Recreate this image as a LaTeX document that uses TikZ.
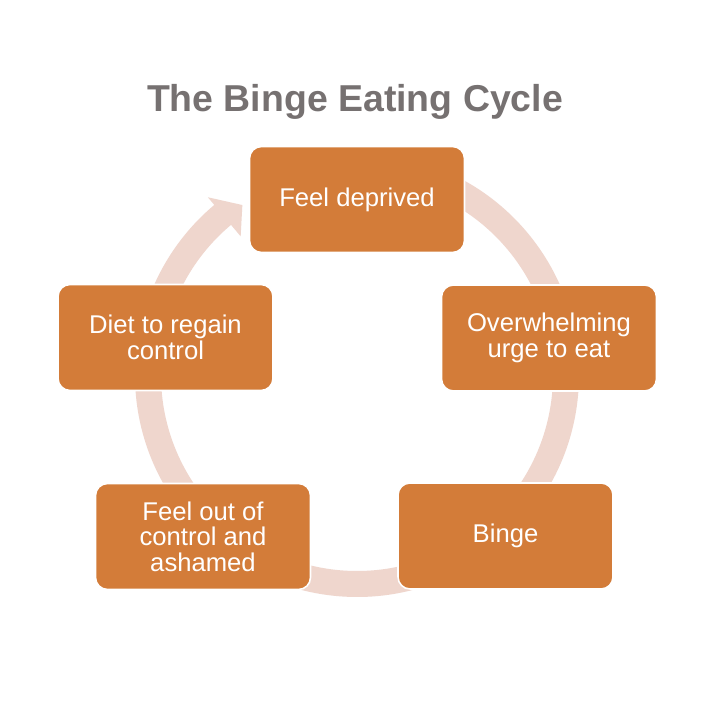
\documentclass[tikz,border=0pt]{standalone}
\usepackage{fontspec}
\setmainfont{Liberation Sans}
\definecolor{boxc}{RGB}{211,124,57}
\definecolor{ringc}{RGB}{239,214,205}
\definecolor{titlec}{RGB}{118,113,113}
\begin{document}
\begin{tikzpicture}[x=0.02cm,y=0.02cm,
  cyc/.style={draw=white, line width=0.9pt, fill=boxc, rounded corners=0.24cm,
    minimum width=4.3cm, minimum height=2.12cm, align=center, text=white,
    font=\fontsize{14.6}{14.6}\selectfont, inner sep=0pt}]
\useasboundingbox (0,0) rectangle (720,720);
\fill[white] (0,0) rectangle (720,720);
\fill[ringc, shift={(357,345)}] (85:222) arc[start angle=85,end angle=-230,radius=222]
  -- (-230:232) -- (-236:205) -- (-230:181) -- (-230:196)
  arc[start angle=-230,end angle=85,radius=196] -- cycle;
\node[font=\bfseries\fontsize{21.3}{24}\selectfont, text=titlec, anchor=base] (title) at (355,608) {The Binge Eating Cycle};
\node[cyc] (a) at (357,520.5) {Feel deprived};
\node[cyc] (b) at (549,382) {Overwhelming\\urge to eat};
\node[cyc] (c) at (505.5,184) {Binge};
\node[cyc] (d) at (203,183.5) {Feel out of\\control and\\ashamed};
\node[cyc] (e) at (165.5,382.5) {Diet to regain\\control};
\end{tikzpicture}
\end{document}
